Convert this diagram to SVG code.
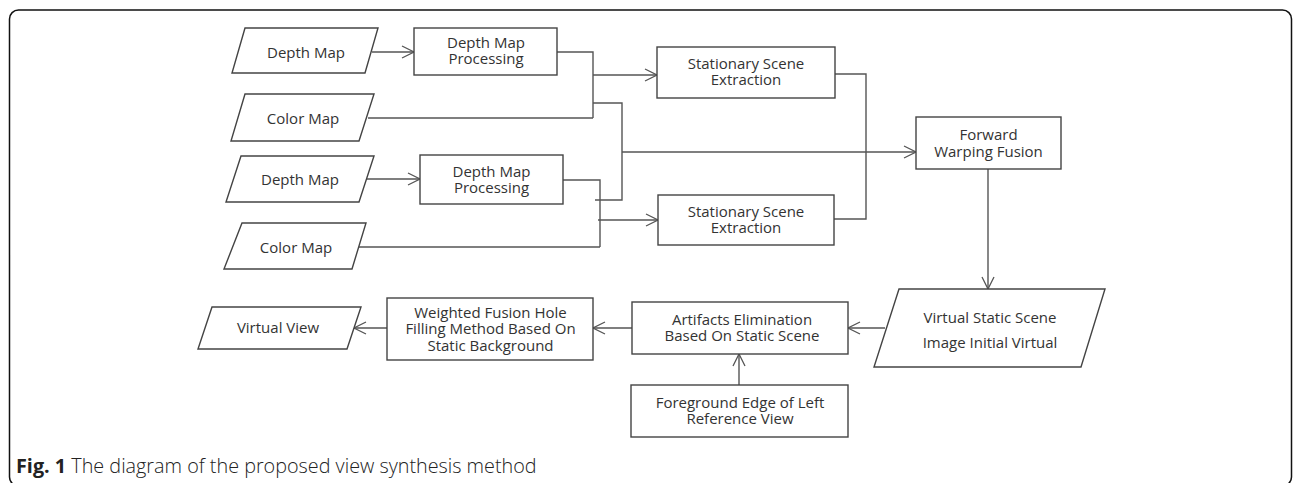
<svg xmlns="http://www.w3.org/2000/svg" width="1293" height="483" viewBox="0 0 1293 483">
<defs>
<marker id="arr" markerUnits="userSpaceOnUse" markerWidth="14" markerHeight="14" viewBox="0 0 14 14" refX="13" refY="7" orient="auto">
<path d="M1,1 L13,7 L1,13" fill="none" stroke="#555" stroke-width="1.3"/>
</marker>
<style>
.n{fill:#fff;stroke:#444;stroke-width:1.4}
.t{font-family:"Open Sans",sans-serif;font-size:15px;fill:#333;text-anchor:middle}
.c{fill:none;stroke:#555;stroke-width:1.4}
.a{fill:none;stroke:#555;stroke-width:1.4;marker-end:url(#arr)}
.cap{font-family:"Open Sans",sans-serif;font-size:19.8px;fill:#222;font-weight:300}
</style>
</defs>
<rect x="9.5" y="10" width="1282" height="476" rx="9" fill="#fff" stroke="#111" stroke-width="1.5"/>
<g id="connectors">
<path class="a" d="M372,52 H414"/>
<path class="c" d="M557,52 H593 V118"/>
<path class="c" d="M368,118 H593"/>
<path class="a" d="M593,75 H657"/>
<path class="c" d="M593,103 H622 V200 H595"/>
<path class="a" d="M622,152 H916"/>
<path class="c" d="M835,74 H866 V219 H834"/>
<path class="a" d="M367,179 H420"/>
<path class="c" d="M563,180 H600 V247"/>
<path class="c" d="M359,247 H600"/>
<path class="a" d="M598,220 H658"/>
<path class="a" d="M988,169 V289"/>
<path class="a" d="M885,328 H848"/>
<path class="a" d="M632,328 H593"/>
<path class="a" d="M387,328 H354"/>
<path class="a" d="M739,385 V354"/>
</g>
<g id="depth1"><polygon class="n" points="245,28 378,28 365,73 232,73"/><text class="t" x="306" y="58">Depth Map</text></g>
<g id="color1"><polygon class="n" points="245,94 374,94 359,141 231,141"/><text class="t" x="303" y="124">Color Map</text></g>
<g id="depth2"><polygon class="n" points="241,156 374,156 359,202 226,202"/><text class="t" x="300" y="185">Depth Map</text></g>
<g id="color2"><polygon class="n" points="242,223 366,223 352,269 224,269"/><text class="t" x="296" y="253">Color Map</text></g>
<g id="dmp1"><rect class="n" x="414" y="28" width="143" height="47"/><text class="t" x="486" y="47.5">Depth Map</text><text class="t" x="486" y="64">Processing</text></g>
<g id="dmp2"><rect class="n" x="420" y="155" width="143" height="49"/><text class="t" x="491.5" y="176.5">Depth Map</text><text class="t" x="491.5" y="193">Processing</text></g>
<g id="sse1"><rect class="n" x="657" y="47" width="178" height="51"/><text class="t" x="746" y="68.5">Stationary Scene</text><text class="t" x="746" y="85">Extraction</text></g>
<g id="sse2"><rect class="n" x="658" y="195" width="176" height="50"/><text class="t" x="746" y="216.5">Stationary Scene</text><text class="t" x="746" y="233">Extraction</text></g>
<g id="fwf"><rect class="n" x="916" y="117" width="145" height="52"/><text class="t" x="988.5" y="139.5">Forward</text><text class="t" x="988.5" y="156.5">Warping Fusion</text></g>
<g id="vss"><polygon class="n" points="899,289 1105,289 1081,367 874,367"/><text class="t" x="990" y="323">Virtual Static Scene</text><text class="t" x="990" y="348">Image Initial Virtual</text></g>
<g id="artifacts"><rect class="n" x="632" y="302" width="216" height="52"/><text class="t" x="742" y="324.5">Artifacts Elimination</text><text class="t" x="742" y="341">Based On Static Scene</text></g>
<g id="foreground"><rect class="n" x="631" y="385" width="217" height="52"/><text class="t" x="740" y="407.5">Foreground Edge of Left</text><text class="t" x="740" y="424">Reference View</text></g>
<g id="weighted"><rect class="n" x="387" y="298" width="206" height="62"/><text class="t" x="490.5" y="317.5">Weighted Fusion Hole</text><text class="t" x="490.5" y="334">Filling Method Based On</text><text class="t" x="490.5" y="350.5">Static Background</text></g>
<g id="virtualview"><polygon class="n" points="212,307 361,307 347,349 198,349"/><text class="t" x="278" y="333">Virtual View</text></g>
<text class="cap" x="16" y="473"><tspan font-weight="bold">Fig. 1</tspan> The diagram of the proposed view synthesis method</text>
</svg>
